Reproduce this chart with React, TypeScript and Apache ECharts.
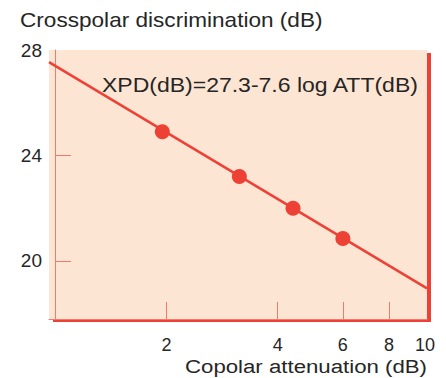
import React, { useEffect, useRef } from "react";
import * as echarts from "echarts";

// Measured points (copolar attenuation in dB, XPD in dB)
const attenuation = [1.95, 3.15, 4.4, 6.0];
const xpd = [24.9, 23.2, 22.0, 20.85];
// Fitted line end points (drawn across the whole plot)
const fitAttenuation = [0.963, 10.13];
const fitXpd = [27.54, 18.96];
// Axis ticks / labels
const xTickValues = [2, 4, 6, 8];
const xLabelValues = [2, 4, 6, 8, 10];
const yTickValues = [20, 24];
const yLabelValues = [20, 24, 28];
const xRange = [0.963, 10.13];
const yRange = [17.8, 28];
// Texts
const titleText = "Crosspolar discrimination (dB)";
const xAxisTitle = "Copolar attenuation (dB)";
const formulaText = "XPD(dB)=27.3-7.6 log ATT(dB)";

const RED = "#ee4136";
const LIGHT_RED = "#f07a6e";
const PEACH = "#fde5d3";
const TEXT = "#262626";
const FONT = "Liberation Sans, Arial, Helvetica, sans-serif";

const log10 = (v: number) => Math.log10(v);

export default function App() {
  const ref = useRef<HTMLDivElement>(null);

  useEffect(() => {
    if (!ref.current) return;
    const chart = echarts.init(ref.current, undefined, { renderer: "svg" });
    const option: any = {
      animation: false,
      backgroundColor: "#ffffff",
      textStyle: { fontFamily: FONT },
      grid: {
        left: 49,
        top: 50,
        right: 19,
        bottom: 59,
        show: true,
        backgroundColor: PEACH,
        borderWidth: 0,
        shadowColor: RED,
        shadowBlur: 0,
        shadowOffsetX: 4,
        shadowOffsetY: 3,
      },
      xAxis: {
        type: "value",
        min: log10(xRange[0]),
        max: log10(xRange[1]),
        splitLine: { show: false },
        axisLine: { show: true, lineStyle: { color: LIGHT_RED, width: 1 } },
        axisTick: {
          show: true,
          inside: true,
          length: 17,
          customValues: xTickValues.map(log10),
          lineStyle: { color: LIGHT_RED, width: 1 },
        },
        axisLabel: {
          show: true,
          customValues: xLabelValues.map(log10),
          formatter: (v: number) => String(Math.round(Math.pow(10, v))),
          color: TEXT,
          fontSize: 18,
          fontFamily: FONT,
          margin: 17,
        },
      },
      yAxis: {
        type: "value",
        min: yRange[0],
        max: yRange[1],
        splitLine: { show: false },
        axisLine: { show: true, lineStyle: { color: LIGHT_RED, width: 1 } },
        axisTick: {
          show: true,
          inside: true,
          length: 16,
          customValues: yTickValues,
          lineStyle: { color: LIGHT_RED, width: 1 },
        },
        axisLabel: {
          show: true,
          customValues: yLabelValues,
          color: TEXT,
          fontSize: 19,
          fontFamily: FONT,
          margin: 7,
        },
      },
      series: [
        {
          type: "line",
          data: fitAttenuation.map((a, i) => [log10(a), fitXpd[i]]),
          showSymbol: false,
          symbol: "none",
          lineStyle: { color: RED, width: 2.5 },
          z: 2,
        },
        {
          type: "scatter",
          data: attenuation.map((a, i) => [log10(a), xpd[i]]),
          symbol: "circle",
          symbolSize: 15,
          itemStyle: { color: RED, opacity: 1 },
          z: 3,
        },
      ],
      graphic: [
        {
          type: "text",
          x: 20,
          y: 20,
          scaleX: 1.13,
          style: {
            text: titleText,
            fill: TEXT,
            font: `20px ${FONT}`,
            textAlign: "left",
            textVerticalAlign: "middle",
            align: "left",
            verticalAlign: "middle",
          },
        },
        {
          type: "text",
          x: 102,
          y: 85,
          scaleX: 1.15,
          z: 10,
          style: {
            text: formulaText,
            fill: TEXT,
            font: `20px ${FONT}`,
            textAlign: "left",
            textVerticalAlign: "middle",
            align: "left",
            verticalAlign: "middle",
          },
        },
        {
          type: "text",
          x: 185,
          y: 366,
          scaleX: 1.17,
          style: {
            text: xAxisTitle,
            fill: TEXT,
            font: `19px ${FONT}`,
            textAlign: "left",
            textVerticalAlign: "middle",
            align: "left",
            verticalAlign: "middle",
          },
        },
      ],
    };
    chart.setOption(option);
    return () => chart.dispose();
  }, []);

  return (
    <div
      ref={ref}
      style={{ position: "fixed", left: 0, top: 0, width: 446, height: 378 }}
    />
  );
}
